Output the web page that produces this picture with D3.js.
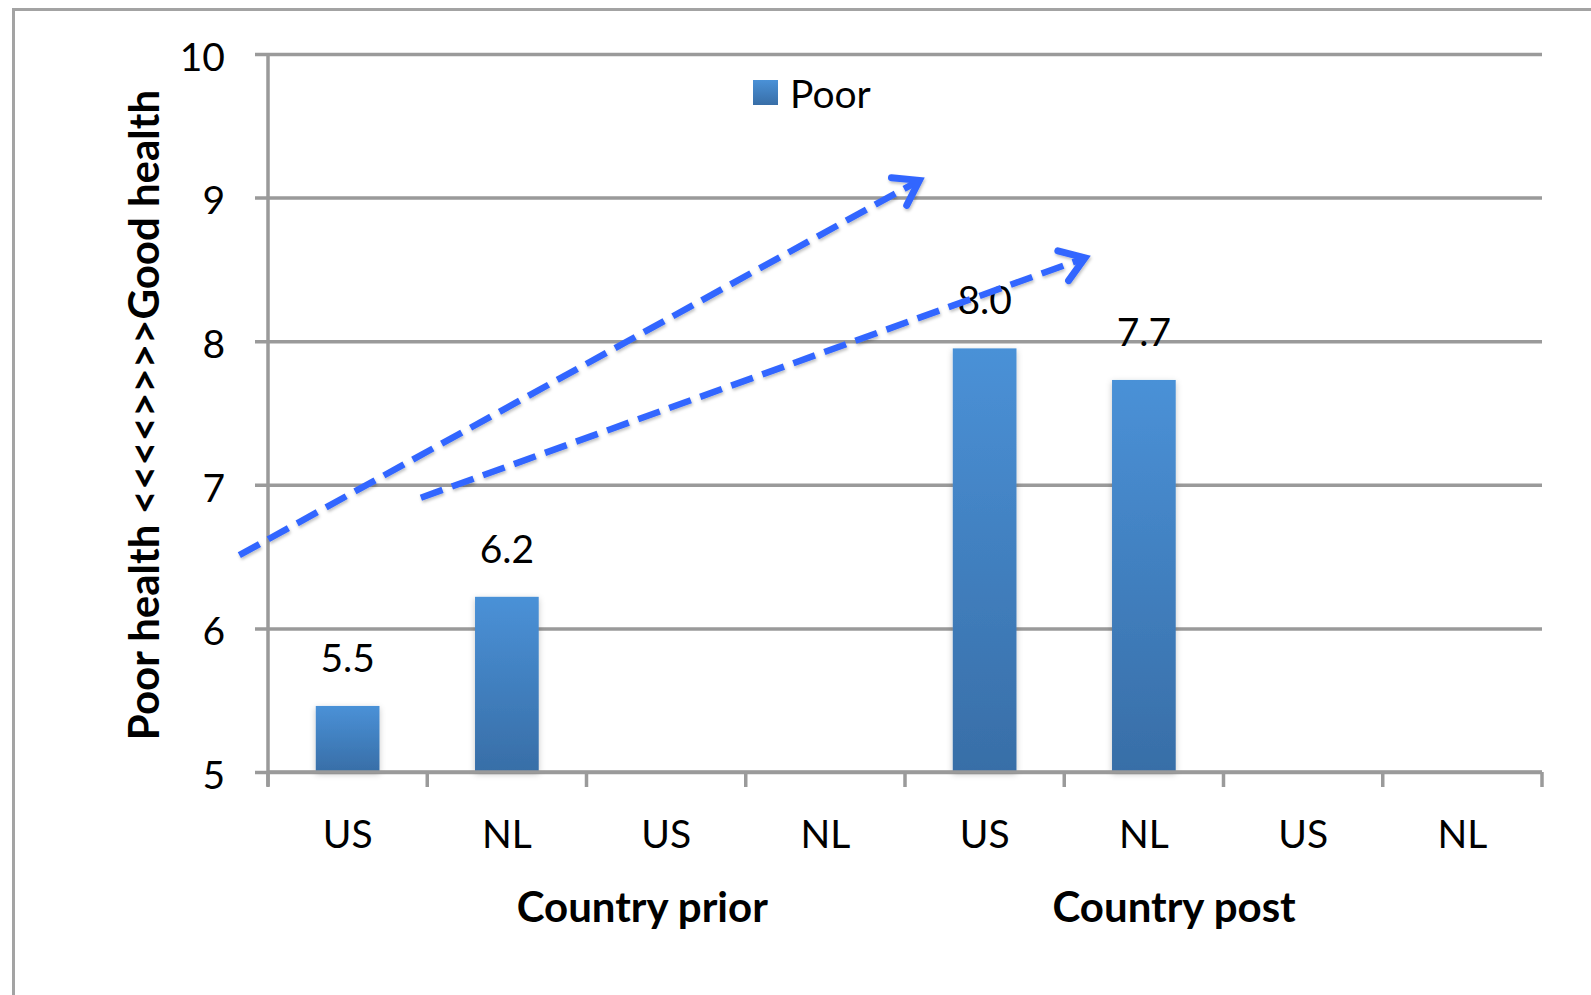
<!DOCTYPE html>
<html>
<head>
<meta charset="utf-8">
<script src="https://cdn.jsdelivr.net/npm/d3@7"></script>
<style>
  html, body { margin: 0; padding: 0; background: #fff; }
  svg { display: block; }
  text { font-family: Lato, "Open Sans", "Liberation Sans", sans-serif; fill: #000; }
</style>
</head>
<body>
<svg id="chart" width="1591" height="995"></svg>
<script>
// Category axis: two levels (country within period)
const categories = ["US", "NL", "US", "NL", "US", "NL", "US", "NL"];
const groupLabels = ["Country prior", "Country post"];
// Mean self-rated health, "Poor" series (null = no bar)
const poorValues = [5.46, 6.22, null, null, 7.95, 7.73, null, null];
const yTicks = [5, 6, 7, 8, 9, 10];
const seriesName = "Poor";
// Trend arrows, in (category index, health score) units
const arrowStarts = [[-0.18, 6.51], [0.96, 6.91]];
const arrowEnds = [[4.09, 9.12], [5.13, 8.58]];

const svg = d3.select("#chart");
const W = 1591, H = 995;
const plot = { left: 268, right: 1542, top: 54, bottom: 772 };

const x = d3.scaleBand()
  .domain(d3.range(categories.length))
  .range([plot.left, plot.right])
  .paddingInner(0).paddingOuter(0);
// continuous counterpart of the band scale (0 = left edge of first category)
const xc = d3.scaleLinear().domain([0, categories.length]).range([plot.left, plot.right]);
const y = d3.scaleLinear().domain([5, 10]).range([plot.bottom, plot.top]);

const gray = "#9a9a9a";

const defs = svg.append("defs");
const grad = defs.append("linearGradient")
  .attr("id", "barFill").attr("x1", 0).attr("y1", 0).attr("x2", 0).attr("y2", 1);
grad.append("stop").attr("offset", "0%").attr("stop-color", "#4a91d7");
grad.append("stop").attr("offset", "100%").attr("stop-color", "#386ea7");

const shadow = defs.append("filter").attr("id", "softShadow")
  .attr("x", "-20%").attr("y", "-20%").attr("width", "140%").attr("height", "140%");
shadow.append("feDropShadow").attr("dx", 0).attr("dy", 2).attr("stdDeviation", 3)
  .attr("flood-color", "#000").attr("flood-opacity", 0.22);

const arrowShadow = defs.append("filter").attr("id", "arrowShadow")
  .attr("x", "-10%").attr("y", "-10%").attr("width", "120%").attr("height", "120%");
arrowShadow.append("feDropShadow").attr("dx", 1).attr("dy", 2).attr("stdDeviation", 1.5)
  .attr("flood-color", "#000").attr("flood-opacity", 0.25);

// outer chart frame (runs off the right and bottom edges)
svg.append("path")
  .attr("d", `M13.5,${H + 5} V9.5 H${W + 5}`)
  .attr("fill", "none").attr("stroke", "#a3a3a3").attr("stroke-width", 3);

// horizontal gridlines with tick marks extending left of the axis
const yAxis = d3.axisLeft(y).tickValues(yTicks).tickSize(0).tickFormat(d3.format("d"));
const gy = svg.append("g").attr("transform", `translate(${plot.left},0)`).call(yAxis);
gy.select(".domain").remove();
gy.selectAll(".tick line")
  .attr("x1", -13).attr("x2", plot.right - plot.left)
  .attr("stroke", gray).attr("stroke-width", 3.5);
gy.selectAll(".tick text")
  .attr("x", -43).attr("dy", "0.42em")
  .style("font-size", "39px").attr("fill", "#000");

// vertical axis line
svg.append("line")
  .attr("x1", plot.left).attr("x2", plot.left)
  .attr("y1", plot.top).attr("y2", plot.bottom + 14)
  .attr("stroke", gray).attr("stroke-width", 3.5);

// bars
const barW = x.bandwidth() / 2.5;
const barData = poorValues.map((v, i) => ({ i, v })).filter(d => d.v != null);
svg.append("g").selectAll("rect").data(barData).join("rect")
  .attr("x", d => x(d.i) + x.bandwidth() / 2 - barW / 2)
  .attr("y", d => y(d.v))
  .attr("width", barW)
  .attr("height", d => y(5) - y(d.v))
  .attr("fill", "url(#barFill)")
  .attr("filter", "url(#softShadow)");

// bottom category axis with tick marks between categories
const gx = svg.append("g").attr("transform", `translate(0,${plot.bottom})`);
gx.append("line").attr("x1", plot.left).attr("x2", plot.right)
  .attr("stroke", gray).attr("stroke-width", 3.5);
gx.selectAll("line.tk").data(d3.range(categories.length + 1)).join("line")
  .attr("class", "tk")
  .attr("x1", d => xc(d)).attr("x2", d => xc(d))
  .attr("y1", 0).attr("y2", 15)
  .attr("stroke", gray).attr("stroke-width", 3.5);
gx.selectAll("text.cat").data(categories).join("text")
  .attr("class", "cat")
  .attr("x", (d, i) => x(i) + x.bandwidth() / 2)
  .attr("y", 76)
  .attr("text-anchor", "middle")
  .style("font-size", "39px")
  .text(d => d);

// period labels
const groupCenters = [2.35, 5.69];
svg.selectAll("text.grp").data(groupLabels).join("text")
  .attr("class", "grp")
  .attr("x", (d, i) => xc(groupCenters[i]))
  .attr("y", 922)
  .attr("text-anchor", "middle")
  .style("font-size", "42px").style("font-weight", "bold")
  .text(d => d);

// value labels
svg.append("g").selectAll("text").data(barData).join("text")
  .attr("x", d => x(d.i) + x.bandwidth() / 2)
  .attr("y", d => y(d.v) - 34)
  .attr("text-anchor", "middle")
  .style("font-size", "39px")
  .text(d => d3.format(".1f")(d.v));

// y axis title
svg.append("text")
  .attr("transform", "translate(159,415) rotate(-90)")
  .attr("text-anchor", "middle")
  .style("font-size", "42px").style("font-weight", "bold")
  .text("Poor health <<<<>>>>Good health");

// legend
svg.append("rect").attr("x", 753).attr("y", 80).attr("width", 25).attr("height", 25)
  .attr("fill", "url(#barFill)");
svg.append("text").attr("x", 790).attr("y", 108)
  .style("font-size", "39px").text(seriesName);

// dashed trend arrows
const arrowColor = "#3366ff";
const ag = svg.append("g").attr("filter", "url(#arrowShadow)");
arrowStarts.forEach((s, k) => {
  const e = arrowEnds[k];
  const x1 = xc(s[0]), y1 = y(s[1]), x2 = xc(e[0]), y2 = y(e[1]);
  const ang = Math.atan2(y2 - y1, x2 - x1);
  const head = 28, spread = 0.6;
  ag.append("line")
    .attr("x1", x1).attr("y1", y1).attr("x2", x2 - 4 * Math.cos(ang)).attr("y2", y2 - 4 * Math.sin(ang))
    .attr("stroke", arrowColor).attr("stroke-width", 6.5)
    .attr("stroke-dasharray", "23,10");
  const p = d3.path();
  p.moveTo(x2 - head * Math.cos(ang - spread), y2 - head * Math.sin(ang - spread));
  p.lineTo(x2, y2);
  p.lineTo(x2 - head * Math.cos(ang + spread), y2 - head * Math.sin(ang + spread));
  ag.append("path").attr("d", p.toString())
    .attr("fill", "none").attr("stroke", arrowColor).attr("stroke-width", 7)
    .attr("stroke-linecap", "round").attr("stroke-linejoin", "miter");
});
</script>
</body>
</html>
